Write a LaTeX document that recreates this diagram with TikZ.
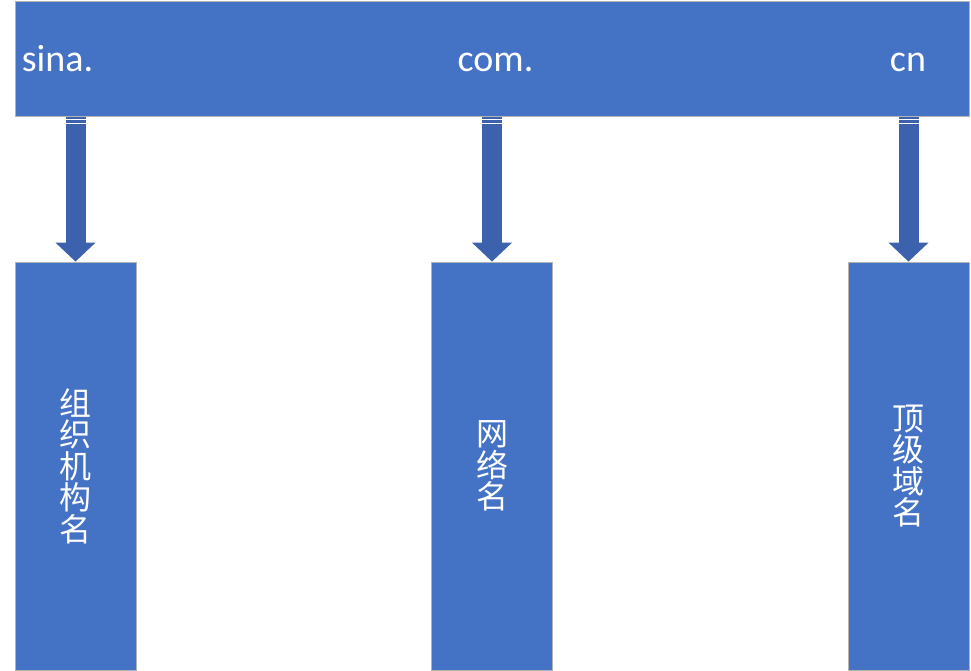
\documentclass[tikz,border=0pt]{standalone}
\usepackage{fontspec}
\setmainfont{Carlito}
\newfontfamily\cjk{Noto Sans CJK SC}
\usetikzlibrary{positioning,arrows.meta}
\definecolor{boxblue}{HTML}{4472C4}
\definecolor{arrowblue}{HTML}{3D62AD}
\definecolor{rim}{HTML}{B4B4B4}

\begin{document}
\begin{tikzpicture}[x=1pt,y=-1pt,node distance=416.5pt,on grid,
    box/.style={rectangle,fill=boxblue,draw=rim,line width=0.8pt,
      minimum width=121pt,minimum height=408.5pt,inner sep=0pt,
      text=white,align=center,font=\cjk\fontsize{32}{31.5}\selectfont},
    tag/.style={text=white,anchor=base,inner sep=0pt,
      font=\fontsize{38}{40}\selectfont},
    pipe/.style={arrowblue,line width=20pt,
      dash pattern=on 2pt off 1pt on 3pt off 1pt on 300pt,
      -{Triangle[width=39pt,length=19pt]}}]
    \useasboundingbox (0,0) rectangle (971,671);
    % the name, split into its three parts
    \node[rectangle,fill=boxblue,draw=rim,line width=0.8pt,inner sep=0pt,
      minimum width=954.5pt,minimum height=115.5pt] (name) at (492.25,58.75) {};
    \node[tag] (sina) at (57.5,72) {sina.};
    \node[tag] (com)  at (495.5,72) {com.};
    \node[tag] (cn)   at (908,72) {cn};
    % what each part stands for
    \node[box] (org) at (75.5,466.25) {组\\织\\机\\构\\名};
    \node[box] (net) [right=of org] {网\\络\\名};
    \node[box] (tld) [right=of net] {顶\\级\\域\\名};
    \draw[pipe] (name.south -| org.north) -- (org.north);
    \draw[pipe] (name.south -| net.north) -- (net.north);
    \draw[pipe] (name.south -| tld.north) -- (tld.north);
\end{tikzpicture}
\end{document}
